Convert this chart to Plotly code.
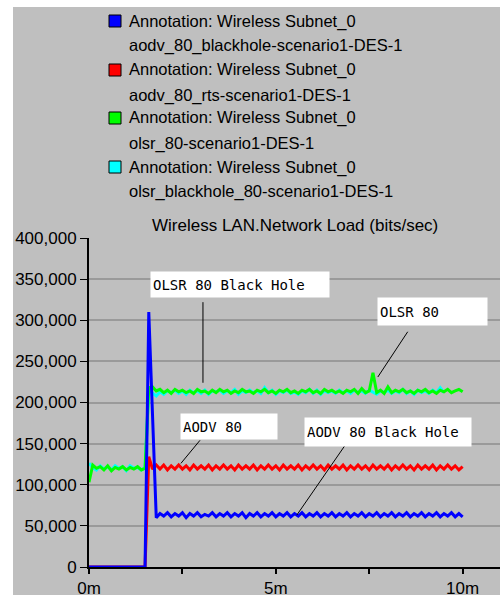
import plotly.graph_objects as go

# Sampling grid in minutes (one statistic bucket every 0.1 min)
time_min = [round(0.1 * i, 1) for i in range(101)]

legend_prefix = "Annotation: Wireless Subnet_0"
series_names = [
    "aodv_80_blackhole-scenario1-DES-1",
    "aodv_80_rts-scenario1-DES-1",
    "olsr_80-scenario1-DES-1",
    "olsr_blackhole_80-scenario1-DES-1",
]
series_colors = ["#0000ff", "#ff0000", "#00ff00", "#00ffff"]

# Wireless LAN network load, bits/sec
aodv_80_blackhole = [
    0, 0, 0, 0, 0, 0, 0, 0, 0, 0, 0, 0, 0, 0, 0, 0,
    310000, 185000, 60000,
    65000, 62000, 66000, 61000, 65000, 62000, 66000, 60000, 65000, 62000,
    66000, 61000, 64000, 62000, 66000, 61000, 65000, 62000, 66000, 61000,
    65000, 62000, 66000, 60000, 65000, 62000, 66000, 61000, 65000, 62000,
    66000, 61000, 65000, 62000, 66000, 61000, 65000, 62000, 66000, 61000,
    65000, 62000, 66000, 61000, 65000, 62000, 66000, 61000, 65000, 62000,
    66000, 61000, 65000, 62000, 66000, 61000, 65000, 62000, 66000, 61000,
    65000, 62000, 66000, 61000, 65000, 62000, 66000, 61000, 65000, 62000,
    66000, 61000, 65000, 62000, 66000, 61000, 65000, 62000, 66000, 61000,
    65000, 61000,
]

aodv_80_rts = [
    0, 0, 0, 0, 0, 0, 0, 0, 0, 0, 0, 0, 0, 0, 0, 0,
    134000, 119000, 124000,
    119000, 124000, 118000, 123000, 119000, 124000, 119000, 123000, 118000, 124000,
    119000, 123000, 119000, 124000, 118000, 123000, 119000, 124000, 119000, 123000,
    118000, 124000, 119000, 123000, 119000, 124000, 118000, 123000, 119000, 124000,
    119000, 123000, 118000, 124000, 119000, 123000, 119000, 124000, 118000, 123000,
    119000, 124000, 119000, 123000, 118000, 124000, 119000, 123000, 119000, 124000,
    118000, 123000, 119000, 124000, 119000, 123000, 118000, 124000, 119000, 123000,
    119000, 124000, 118000, 123000, 119000, 124000, 119000, 123000, 118000, 124000,
    119000, 123000, 119000, 124000, 118000, 123000, 119000, 124000, 119000, 123000,
    118000, 122000,
]

olsr_80 = [
    103000, 124000, 120000, 122000, 118000, 123000, 117000, 121000,
    119000, 122000, 118000, 121000, 119000, 122000, 118000, 120000,
    218000, 219000, 214000, 216000, 212000, 215000, 211000, 216000, 213000, 215000,
    212000, 214000, 211000, 216000, 213000, 214000, 211000, 215000, 212000, 216000,
    213000, 215000, 211000, 214000, 212000, 216000, 213000, 214000, 211000, 215000,
    213000, 216000, 212000, 214000, 211000, 215000, 213000, 216000, 212000, 214000,
    211000, 215000, 213000, 216000, 212000, 214000, 211000, 216000, 213000, 215000,
    212000, 214000, 211000, 215000, 213000, 216000, 211000, 217000, 212000, 214000,
    236000, 212000, 215000, 211000, 219000, 212000, 215000, 213000, 216000, 212000,
    214000, 211000, 215000, 213000, 216000, 212000, 214000, 211000, 215000, 213000,
    216000, 212000, 214000, 216000, 213000,
]

olsr_blackhole_80 = [
    126000, 121000, 118000, 123000, 119000, 122000, 118000, 123000,
    120000, 122000, 117000, 123000, 120000, 121000, 118000, 121000,
    215000, 212000, 208000, 213000, 210000, 214000, 212000, 215000, 211000, 214000,
    210000, 215000, 212000, 214000, 211000, 215000, 210000, 214000, 213000, 215000,
    211000, 214000, 212000, 216000, 210000, 214000, 212000, 215000, 212000, 214000,
    211000, 218000, 212000, 215000, 210000, 214000, 212000, 215000, 211000, 213000,
    210000, 214000, 212000, 216000, 211000, 215000, 210000, 214000, 212000, 214000,
    211000, 215000, 212000, 214000, 211000, 215000, 212000, 214000, 211000, 215000,
    212000, 210000, 214000, 212000, 215000, 211000, 214000, 212000, 216000, 211000,
    214000, 210000, 215000, 212000, 214000, 211000, 215000, 212000, 218000, 212000,
]

series_values = [aodv_80_blackhole, aodv_80_rts, olsr_80, olsr_blackhole_80]

y_ticks = [0, 50000, 100000, 150000, 200000, 250000, 300000, 350000, 400000]
x_tickvals = [0, 2.5, 5, 7.5, 10]
x_ticktext = ["0m", "", "5m", "", "10m"]

title_text = "Wireless LAN.Network Load (bits/sec)"

# Callout labels: text, box centre (min, bits/sec), box size (px),
# and the leader line drawn from the box to its series
callouts = [
    ("OLSR 80 Black Hole", 4.04, 343500, 178, 25, (3.05, 322000), (3.05, 224000)),
    ("OLSR 80", 9.18, 310600, 109, 27, (8.53, 286000), (7.73, 231000)),
    ("AODV 80", 3.74, 170800, 96, 25, (2.97, 154000), (2.46, 126000)),
    ("AODV 80 Black Hole", 7.99, 164100, 166, 28, (6.90, 151000), (5.56, 63000)),
]

W, H = 500, 597
ML, MR, MT, MB = 89, 0, 238, 30
PW, PH = W - ML - MR, H - MT - MB


def px_x(px):
    return (px - ML) / PW


def px_y(py):
    return (H - MB - py) / PH


fig = go.Figure()

# draw order: cyan, green, red, blue (blue on top)
for idx in [3, 2, 1, 0]:
    vals = series_values[idx]
    fig.add_trace(go.Scatter(
        x=time_min[:len(vals)], y=vals, mode="lines",
        line=dict(color=series_colors[idx], width=3),
        name=series_names[idx], showlegend=False, hoverinfo="skip",
    ))

shapes = []
annotations = []

# window background
shapes.append(dict(type="rect", xref="paper", yref="paper",
                   x0=px_x(13), x1=1.0, y0=px_y(595), y1=px_y(7),
                   fillcolor="#bfbfbf", line=dict(width=0), layer="below"))

# legend block
row_y = [21, 46, 70, 95, 118, 143, 167, 192]
for i, name in enumerate(series_names):
    y1, y2 = row_y[2 * i], row_y[2 * i + 1]
    shapes.append(dict(type="rect", xref="paper", yref="paper",
                       x0=px_x(109), x1=px_x(121), y0=px_y(y1 + 6), y1=px_y(y1 - 6),
                       fillcolor=series_colors[i], line=dict(color="#000000", width=1)))
    for txt, yy in [(legend_prefix, y1), (name, y2)]:
        annotations.append(dict(xref="paper", yref="paper", x=px_x(127), y=px_y(yy),
                                xanchor="left", yanchor="middle", showarrow=False,
                                text=txt, font=dict(family="Liberation Sans", size=16.5, color="#000000")))

# title
annotations.append(dict(xref="paper", yref="paper", x=0.5, y=px_y(225),
                        xanchor="center", yanchor="middle", showarrow=False,
                        text=title_text,
                        font=dict(family="Liberation Sans", size=17, color="#000000")))

# callouts
for text, cx, cy, bw, bh, p0, p1 in callouts:
    annotations.append(dict(xref="x", yref="y", x=cx, y=cy, xanchor="center", yanchor="middle",
                            showarrow=False, text=text, width=bw - 4, height=bh - 4,
                            align="left", valign="middle", bgcolor="#ffffff", borderpad=2,
                            font=dict(family="DejaVu Sans Mono", size=14, color="#000000")))
    shapes.append(dict(type="line", xref="x", yref="y", x0=p0[0], y0=p0[1], x1=p1[0], y1=p1[1],
                       line=dict(color="#000000", width=1), layer="above"))

fig.update_layout(
    width=W, height=H, autosize=False,
    margin=dict(l=ML, r=MR, t=MT, b=MB, pad=0),
    paper_bgcolor="#ffffff", plot_bgcolor="#fcfcfc",
    shapes=shapes, annotations=annotations,
    showlegend=False,
    font=dict(family="Liberation Sans", size=17, color="#000000"),
)
fig.update_xaxes(range=[0, 11], tickvals=x_tickvals, ticktext=x_ticktext,
                 showgrid=False, zeroline=False, showline=True, linecolor="#000000", linewidth=2,
                 ticks="outside", ticklen=5, tickwidth=2, tickcolor="#000000",
                 tickfont=dict(family="Liberation Sans", size=17, color="#000000"))
fig.update_yaxes(range=[0, 400000], tickvals=y_ticks, tickformat=",d",
                 showgrid=True, gridcolor="#9a9a9a", gridwidth=2,
                 zeroline=False, showline=True, linecolor="#000000", linewidth=2,
                 ticks="outside", ticklen=7, tickwidth=1, tickcolor="#000000",
                 tickfont=dict(family="Liberation Sans", size=17, color="#000000"))

fig.write_html("out.html")
